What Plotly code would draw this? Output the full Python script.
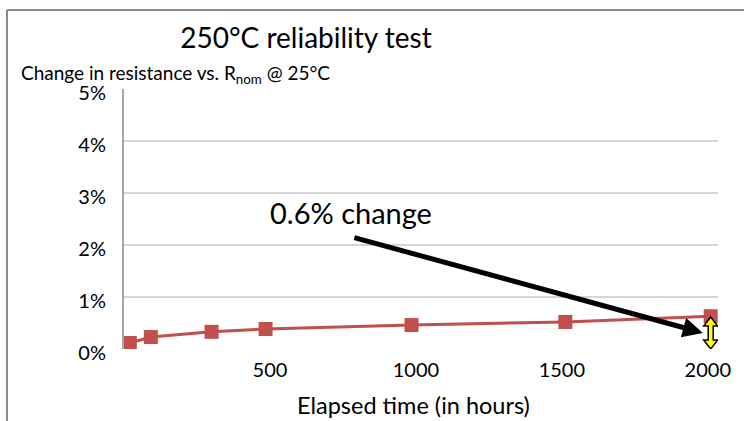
import plotly.graph_objects as go

# Data
hours = [20, 92, 300, 485, 985, 1512, 2010]
change_pct = [0.115, 0.23, 0.33, 0.385, 0.46, 0.52, 0.63]
x_ticks = [500, 1000, 1500, 2000]
y_ticks = [0, 1, 2, 3, 4, 5]
y_ticktext = [f"{v}%" for v in y_ticks]

FONT = "Lato"
RED = "#c0504d"

W, H = 744, 421
ML, MR, MT, MB = 124, 26, 89, 72
PW, PH = W - ML - MR, H - MT - MB


def px(xpix):
    return (xpix - ML) / PW


def py(ypix):
    return (H - MB - ypix) / PH


fig = go.Figure()
fig.add_trace(go.Scatter(
    x=hours, y=change_pct, mode="lines+markers",
    line=dict(color=RED, width=3),
    marker=dict(symbol="square", size=14, color=RED),
    cliponaxis=True, showlegend=False,
))

fig.update_layout(
    width=W, height=H,
    margin=dict(l=ML, r=MR, t=MT, b=MB),
    paper_bgcolor="white", plot_bgcolor="white",
    font=dict(family=FONT, color="black", size=20),
    title=dict(text="250°C reliability test", x=306/W, xref="container",
               xanchor="center", y=1-38/H, yref="container", yanchor="middle",
               font=dict(size=28, family=FONT, color="black")),
    xaxis=dict(range=[0, 2035], tickvals=x_ticks, showgrid=False, zeroline=False,
               showline=False, ticks="", tickfont=dict(size=20), ticklabelstandoff=7),
    yaxis=dict(range=[0, 5], tickvals=y_ticks, ticktext=y_ticktext, showgrid=True,
               gridcolor="#d4d4d4", gridwidth=2, zeroline=False,
               showline=True, linecolor="#a6a6a6", linewidth=2, ticks="",
               tickfont=dict(size=20), ticklabelstandoff=12, ticklabelshift=4),
)

# Y axis heading
fig.add_annotation(text="Change in resistance vs. R<sub>nom</sub> @ 25°C", xref="paper", yref="paper",
                   x=px(19), y=py(74), xanchor="left", yanchor="middle", showarrow=False,
                   font=dict(size=19, family=FONT))
# X axis title
fig.add_annotation(text="Elapsed time (in hours)", xref="paper", yref="paper",
                   x=px(413), y=py(405), xanchor="center", yanchor="middle", showarrow=False,
                   font=dict(size=23.5, family=FONT))
# Callout
fig.add_annotation(text="0.6% change", xref="x", yref="y", x=778, y=2.63,
                   showarrow=False, font=dict(size=29, family=FONT))
fig.add_annotation(text="", x=1983, y=0.31, ax=784, ay=2.15, axref="x", ayref="y",
                   xref="x", yref="y", showarrow=True, arrowhead=2, arrowsize=0.8,
                   arrowwidth=5, arrowcolor="black")

# Yellow double-headed arrow marking the change at the last point
fig.add_shape(type="path", xref="x", yref="y", xsizemode="pixel", ysizemode="pixel",
              xanchor=hours[-1], yanchor=0,
              path="M 0 32 L 7 23 L 2.5 23 L 2.5 9 L 7 9 L 0 0 L -7 9 L -2.5 9 L -2.5 23 L -7 23 Z",
              fillcolor="#ffff00", line=dict(color="black", width=1.5))

# Chart frame (top and left edges)
fig.add_shape(type="line", xref="paper", yref="paper", x0=px(7), x1=px(760), y0=py(10), y1=py(10),
              line=dict(color="#8c8c8c", width=2))
fig.add_shape(type="line", xref="paper", yref="paper", x0=px(7), x1=px(7), y0=py(10), y1=py(440),
              line=dict(color="#8c8c8c", width=2))

fig.write_html("out.html", config={"displayModeBar": False},
               post_script="document.body.style.margin='0';")
